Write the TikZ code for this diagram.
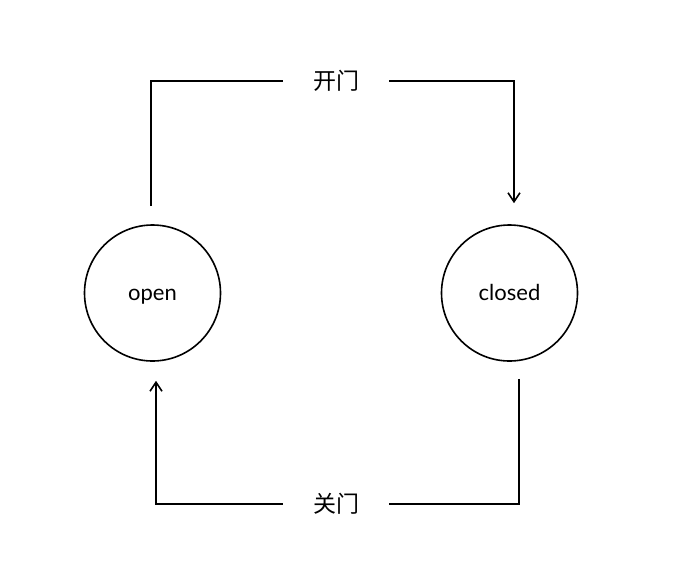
\documentclass[tikz,border=0pt]{standalone}
\usepackage{fontspec}
\setmainfont{Lato}
\newfontfamily\cjk{Noto Sans CJK SC}
\usetikzlibrary{arrows.meta,positioning}

\begin{document}
\begin{tikzpicture}[x=1pt,y=-1pt,>={Straight Barb[length=9pt,width=12pt]},
  state/.style={circle,draw,line width=1.6pt,minimum size=136pt,inner sep=0pt,
    text height=3.2ex,text depth=0.3ex,font=\fontsize{22}{24}\selectfont},
  act/.style={inner xsep=30pt,inner ysep=2pt,font=\cjk\fontsize{23}{25}\selectfont},
  link/.style={line width=1.6pt}]
\useasboundingbox (0,0) rectangle (674,560);
\node[state] (open) at (152.5,293) {open};
\node[state] (closed) at (509.5,293) {closed};
\node[act] (kai) at (336,81) {开门};
\node[act] (guan) at (336,504) {关门};
% 开门: open -> closed
\draw[link,shorten <=18pt] ([xshift=-1.5pt]open.north) |- (kai);
\draw[link,->,shorten >=21pt] (kai) -| ([xshift=4.5pt]closed.north);
% 关门: closed -> open
\draw[link,shorten <=17pt] ([xshift=9.5pt]closed.south) |- (guan);
\draw[link,->,shorten >=19pt] (guan) -| ([xshift=3.5pt]open.south);
\end{tikzpicture}
\end{document}
